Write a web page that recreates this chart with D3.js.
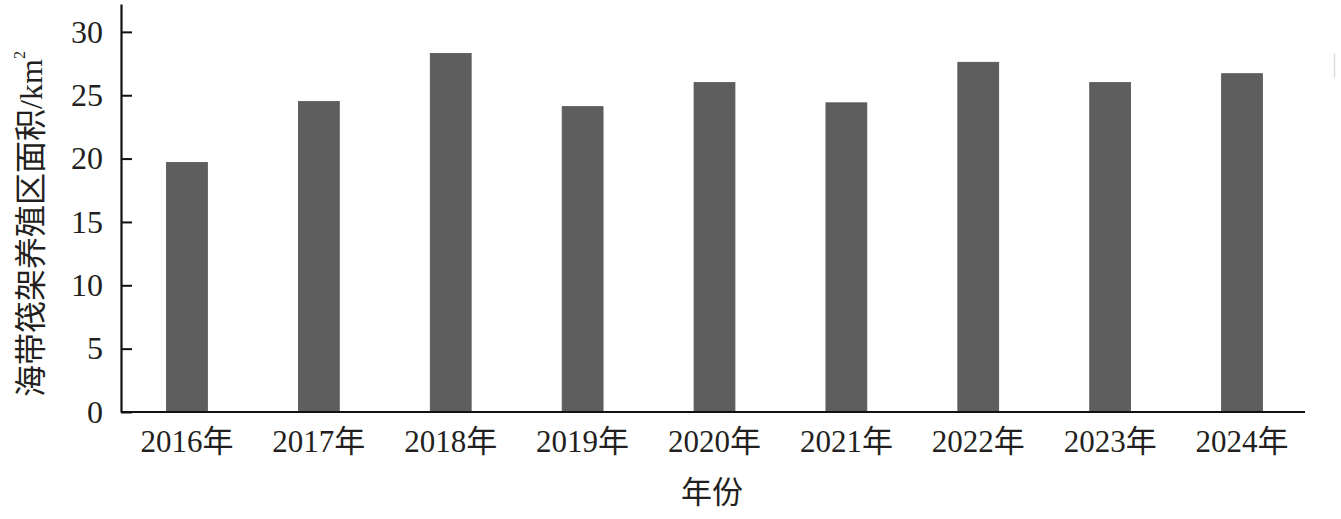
<!DOCTYPE html>
<html><head><meta charset="utf-8">
<script src="https://cdn.jsdelivr.net/npm/d3@7"></script>
<style>
html,body{margin:0;padding:0;background:#fff;}
</style></head>
<body>
<svg id="chart" width="1341" height="519"></svg>
<script>
const years = ["2016年","2017年","2018年","2019年","2020年","2021年","2022年","2023年","2024年"];
const areas = [19.7, 24.5, 28.3, 24.1, 26.0, 24.4, 27.6, 26.0, 26.7];
const yTicks = [0, 5, 10, 15, 20, 25, 30];
const xTitle = "年份";
const yTitle = "海带筏架养殖区面积/km";
const FONT = '"Liberation Serif", "Noto Sans CJK SC"';

const svg = d3.select("#chart");
const x0 = 121, x1 = 1308, yBase = 412, yTop = 4;

const x = d3.scaleBand().domain(years).range([x0, x1]).paddingInner(0.69).paddingOuter(0.345);
const y = d3.scaleLinear().domain([0, 32.2]).range([yBase, yTop]);

// bars
svg.append("g").selectAll("rect").data(areas).join("rect")
  .attr("x", (d,i) => x(years[i]))
  .attr("width", x.bandwidth())
  .attr("y", d => y(d))
  .attr("height", d => y(0) - y(d))
  .attr("fill", "#5e5e5e")
  .attr("stroke", "#555")
  .attr("stroke-width", 0.8);

// y axis
const yAxis = svg.append("g").attr("transform", `translate(${x0},0)`)
  .call(d3.axisLeft(y).tickValues(yTicks).tickSizeInner(-11).tickSizeOuter(0).tickPadding(18).tickFormat(d3.format("d")));
yAxis.select(".domain").attr("stroke", "#111").attr("stroke-width", 2.2);
yAxis.selectAll(".tick line").attr("stroke", "#111").attr("stroke-width", 2);
yAxis.selectAll(".tick text").style("font-family", FONT).style("font-size", "32px").attr("fill", "#231f20");

// x axis
const xAxis = svg.append("g").attr("transform", `translate(0,${yBase})`)
  .call(d3.axisBottom(x).tickSize(0).tickPadding(18));
xAxis.select(".domain").attr("stroke", "#111").attr("stroke-width", 2.2)
  .attr("d", `M${x0},0H1305`);
xAxis.selectAll(".tick text").style("font-family", FONT).style("font-size", "31px").attr("fill", "#231f20");

// titles
svg.append("text").attr("x", 712).attr("y", 503).attr("text-anchor", "middle")
  .style("font-family", FONT).style("font-size", "31px").attr("fill", "#231f20").text(xTitle);

const yt = svg.append("text").attr("transform", "translate(31,224) rotate(-90)")
  .attr("text-anchor", "middle").attr("dominant-baseline", "central")
  .style("font-family", FONT).style("font-size", "32px").attr("fill", "#231f20");
yt.append("tspan").text(yTitle);
yt.append("tspan").style("font-size", "16px").attr("dy", -12).text("2");

// faint artifact mark at right edge
svg.append("line").attr("x1", 1334.5).attr("x2", 1334.5).attr("y1", 53).attr("y2", 78)
  .attr("stroke", "#ddd").attr("stroke-width", 1.5);
</script>
</body></html>
